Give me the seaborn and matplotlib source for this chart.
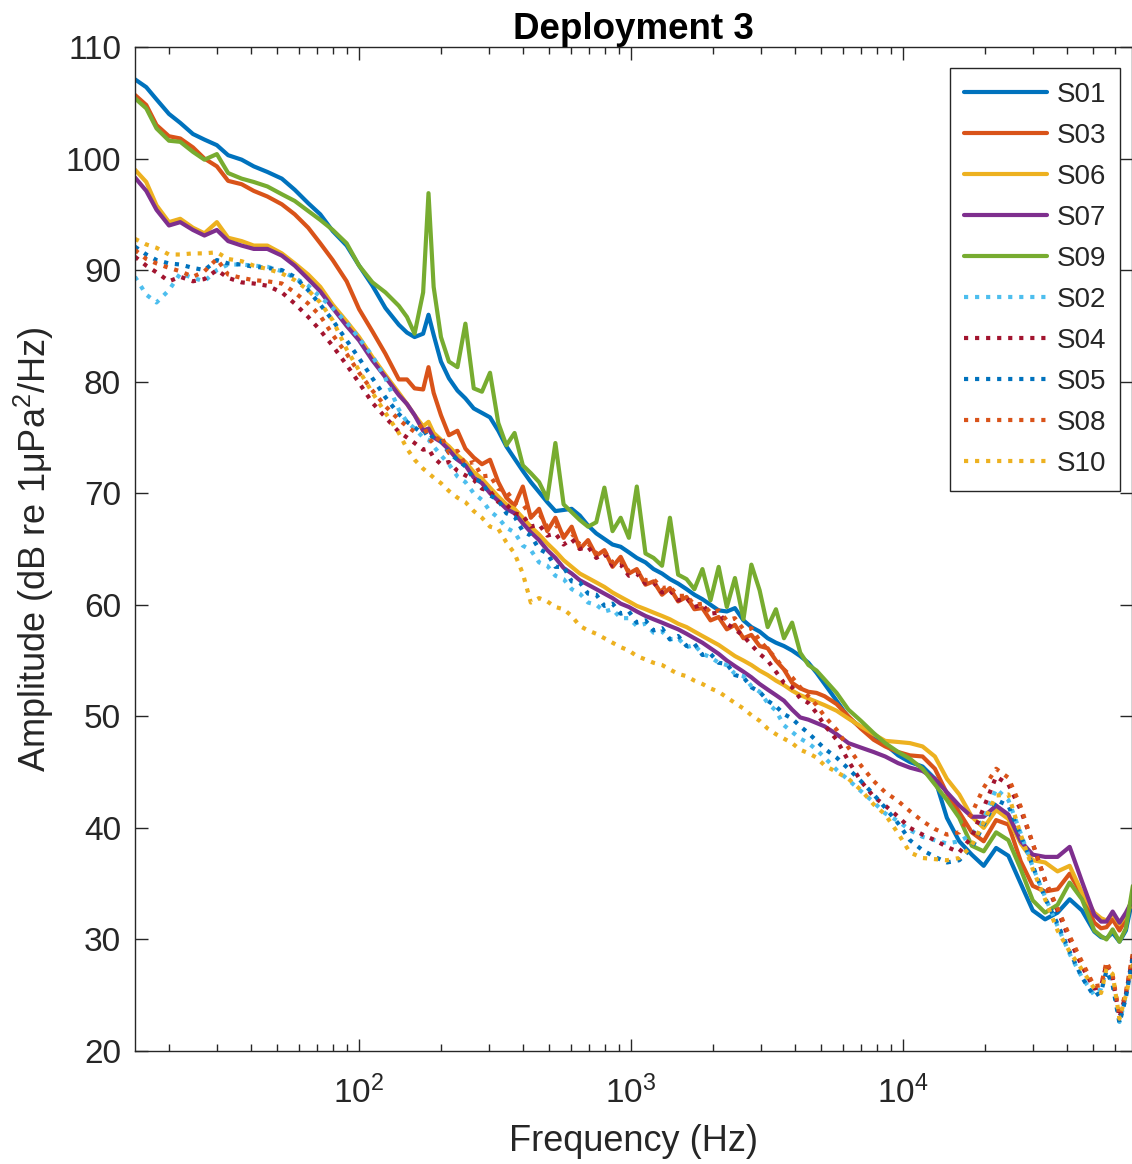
import matplotlib
matplotlib.use("Agg")
import matplotlib.pyplot as plt
import seaborn as sns
from matplotlib.ticker import LogLocator, NullFormatter, FixedLocator

sns.set_style("ticks")
plt.rcParams['font.family'] = ['Liberation Sans', 'DejaVu Sans']
plt.rcParams['mathtext.fontset'] = 'custom'
plt.rcParams['mathtext.rm'] = 'Liberation Sans'
plt.rcParams['mathtext.it'] = 'Liberation Sans:italic'
plt.rcParams['mathtext.bf'] = 'Liberation Sans:bold'

# ---------------- data ----------------
FREQ = [15, 16.5, 18, 20, 22, 24.5, 27, 30, 33, 37,
        41, 46, 52, 58, 65, 72, 80, 90, 100, 112,
        125, 140, 150, 160, 172, 180, 188, 200, 214, 230,
        246, 264, 283, 303, 325, 348, 373, 400, 428, 459,
        492, 527, 565, 605, 648, 695, 745, 798, 855, 916,
        982, 1050, 1130, 1210, 1300, 1390, 1490, 1600, 1710, 1830,
        1960, 2100, 2250, 2410, 2590, 2770, 2970, 3180, 3410, 3650,
        3910, 4190, 4490, 4810, 5150, 5700, 6300, 7000, 7800, 8600,
        9600, 10600, 11800, 13100, 14500, 16100, 17900, 19800, 22000, 24400,
        27100, 30000, 33300, 37000, 41000, 45500, 50500, 53500, 56000, 59000,
        62500, 66000, 70000]

S01 = [107.1, 106.4, 105.3, 104.0, 103.2, 102.2, 101.7, 101.2, 100.3, 99.9,
       99.3, 98.8, 98.2, 97.2, 96.0, 95.0, 93.5, 92.2, 90.4, 88.6,
       86.6, 85.1, 84.4, 84.0, 84.3, 86.0, 84.2, 81.8, 80.3, 79.2,
       78.5, 77.6, 77.2, 76.8, 75.6, 74.2, 73.1, 72.0, 71.0, 70.1,
       69.2, 68.4, 68.5, 68.6, 68.0, 67.1, 66.4, 65.9, 65.4, 65.2,
       64.7, 64.2, 63.8, 63.2, 62.8, 62.3, 61.9, 61.4, 60.9, 60.5,
       60.0, 59.5, 59.4, 59.7, 58.6, 58.0, 57.6, 57.0, 56.6, 56.3,
       55.9, 55.4, 54.8, 53.9, 52.9, 51.4, 49.9, 49.0, 48.2, 47.5,
       46.5, 45.9, 45.5, 44.4, 40.9, 38.8, 37.6, 36.6, 38.2, 37.5,
       35.0, 32.6, 31.8, 32.4, 33.6, 32.6, 30.7, 30.2, 30.1, 30.6,
       29.8, 30.8, 33.8]

S03 = [105.7, 104.8, 103.0, 102.0, 101.8, 101.0, 100.0, 99.3, 98.0, 97.7,
       97.1, 96.6, 95.9, 95.0, 93.8, 92.4, 90.9, 89.0, 86.5, 84.5,
       82.5, 80.2, 80.2, 79.4, 79.3, 81.3, 79.0, 77.0, 75.2, 75.6,
       74.0, 73.2, 72.6, 73.0, 71.0, 69.6, 68.9, 70.6, 67.8, 68.6,
       66.6, 67.8, 66.0, 67.0, 65.0, 65.8, 64.4, 64.9, 63.4, 64.3,
       62.8, 63.2, 61.8, 62.1, 60.9, 61.5, 60.3, 60.7, 59.6, 59.7,
       58.6, 58.9, 57.8, 58.2, 57.0, 57.3, 56.3, 56.1, 55.0, 54.2,
       53.0, 52.5, 52.2, 52.1, 51.8, 51.1, 50.0, 48.9, 47.9, 47.3,
       46.8, 46.5, 46.4, 45.3, 43.1, 41.4, 39.6, 38.8, 40.7, 40.3,
       37.0, 34.8, 34.3, 34.5, 35.9, 34.0, 31.5, 31.0, 31.1, 31.8,
       30.8, 31.8, 34.0]

S06 = [99.0, 97.9, 95.8, 94.3, 94.6, 93.8, 93.3, 94.3, 92.9, 92.6,
       92.2, 92.2, 91.5, 90.6, 89.6, 88.5, 86.9, 85.4, 84.0, 82.2,
       80.6, 79.0, 78.0, 77.0, 76.0, 76.4, 75.4, 74.8, 74.2, 73.4,
       72.8, 71.9, 71.3, 70.5, 69.7, 69.0, 68.6, 67.8, 67.0, 66.3,
       65.5, 64.8, 64.0, 63.4, 62.8, 62.4, 62.0, 61.6, 61.1, 60.7,
       60.3, 59.9, 59.6, 59.3, 59.0, 58.7, 58.3, 58.0, 57.6, 57.2,
       56.8, 56.4, 55.9, 55.4, 55.0, 54.6, 54.1, 53.7, 53.2, 52.8,
       52.3, 51.9, 51.6, 51.3, 51.0, 50.5, 49.8, 49.1, 48.4, 47.8,
       47.7, 47.6, 47.3, 46.4, 44.4, 43.0, 41.0, 40.0, 41.6, 40.8,
       38.6, 37.1, 36.9, 36.1, 36.6, 34.2, 32.4, 31.9, 31.7, 32.3,
       31.4, 32.2, 33.4]

S07 = [98.3, 97.1, 95.4, 94.0, 94.3, 93.6, 93.1, 93.6, 92.6, 92.2,
       91.9, 91.9, 91.3, 90.4, 89.2, 88.1, 86.6, 85.0, 83.7, 81.9,
       80.4, 78.8, 78.0, 77.0, 75.6, 75.8, 75.0, 74.6, 73.9, 73.0,
       72.5, 71.4, 70.9, 70.0, 69.3, 68.6, 68.2, 67.3, 66.5, 65.8,
       64.9, 64.2, 63.3, 62.8, 62.2, 61.8, 61.4, 61.0, 60.6, 60.1,
       59.8, 59.4, 59.0, 58.7, 58.4, 58.1, 57.8, 57.4, 57.0, 56.6,
       56.1, 55.6, 55.0, 54.5, 54.0, 53.5, 52.9, 52.4, 51.9, 51.4,
       50.6, 49.9, 49.7, 49.4, 49.1, 48.4, 47.6, 47.2, 46.8, 46.4,
       45.8, 45.4, 45.1, 44.4, 43.2, 42.0, 41.0, 41.0, 42.0, 41.2,
       38.8, 37.6, 37.4, 37.4, 38.3, 35.2, 32.2, 31.6, 31.6, 32.5,
       31.5, 32.4, 33.6]

S09 = [105.4, 104.5, 102.7, 101.6, 101.5, 100.6, 99.9, 100.4, 98.7, 98.2,
       97.9, 97.5, 96.8, 96.2, 95.3, 94.5, 93.6, 92.4, 90.4, 88.9,
       88.0, 86.8, 85.8, 84.3, 88.0, 96.9, 88.5, 84.0, 81.8, 81.3,
       85.2, 79.4, 79.1, 80.8, 76.3, 74.3, 75.4, 72.5, 71.8, 71.0,
       69.5, 74.5, 69.0, 68.3, 67.6, 67.0, 67.4, 70.5, 66.6, 67.8,
       66.0, 70.6, 64.6, 64.2, 63.5, 67.8, 62.7, 62.3, 61.4, 63.2,
       60.4, 63.4, 59.8, 62.4, 58.7, 63.6, 61.3, 58.0, 59.6, 57.0,
       58.4, 55.7, 54.6, 54.1, 53.3, 52.1, 50.6, 49.6, 48.5, 47.6,
       46.8, 46.2, 45.3, 43.9, 42.5, 40.9, 38.4, 37.9, 39.6, 38.9,
       36.3, 33.5, 32.4, 33.1, 35.1, 33.6, 30.8, 30.3, 30.0, 30.9,
       29.8, 31.0, 34.8]

S02 = [89.4, 87.8, 87.1, 88.2, 89.7, 89.3, 89.0, 90.0, 90.5, 90.5,
       90.4, 90.3, 89.9, 89.3, 88.6, 87.6, 86.6, 85.3, 83.9, 82.3,
       80.3, 77.5, 76.4, 75.8, 75.0, 74.8, 74.2, 73.4, 72.6, 71.5,
       71.0, 70.0, 69.4, 68.4, 67.8, 66.9, 66.5, 65.3, 64.9, 63.8,
       63.5, 62.6, 62.3, 61.4, 61.0, 60.2, 60.0, 59.4, 59.6, 58.8,
       58.8, 58.1, 58.3, 57.5, 57.6, 56.9, 57.0, 56.2, 56.4, 55.6,
       55.3, 54.8, 54.6, 53.8, 53.6, 52.7, 52.2, 51.2, 50.5, 49.2,
       48.6, 48.0, 47.6, 47.0, 46.3, 45.2, 44.3, 43.3, 42.3, 41.3,
       40.6, 39.8, 39.2, 38.9, 38.6, 38.8, 39.4, 40.8, 43.5, 42.5,
       39.5, 36.5, 33.8, 31.2, 28.7, 26.6, 25.0, 25.6, 27.4, 26.2,
       22.6, 24.9, 28.5]

S04 = [91.2, 90.4, 89.8, 89.0, 89.4, 89.0, 89.2, 90.0, 89.3, 88.9,
       88.8, 88.6, 88.0, 87.0, 85.8, 84.6, 83.2, 81.5, 79.9, 78.1,
       76.8, 75.5, 75.0, 74.5, 73.9, 74.0, 73.2, 72.6, 72.8, 72.0,
       71.6, 71.2, 70.4, 70.2, 69.2, 69.0, 68.2, 68.0, 67.0, 67.2,
       66.2, 66.4, 65.4, 65.9, 65.0, 65.2, 64.2, 64.6, 63.5, 63.6,
       62.6, 62.8, 61.9, 62.0, 61.1, 61.3, 60.4, 60.6, 59.8, 60.0,
       59.2, 59.3, 58.3, 57.8, 57.2, 56.4, 55.6, 55.0, 54.0, 53.0,
       52.6, 51.6, 51.2, 50.3, 49.2, 47.9, 46.0, 44.2, 42.8, 42.0,
       41.0, 40.0, 39.4, 38.9, 38.3, 37.8, 39.2, 41.8, 44.6, 43.9,
       41.6, 38.6, 35.3, 32.6, 30.0, 27.6, 25.6, 25.8, 27.8, 26.5,
       23.0, 25.1, 28.6]

S05 = [92.1, 91.4, 90.9, 90.6, 90.5, 90.2, 90.0, 90.9, 90.6, 90.5,
       90.3, 90.2, 90.0, 89.4, 88.2, 86.9, 85.5, 83.7, 82.1, 80.3,
       78.6, 77.1, 76.4, 75.9, 75.3, 75.6, 74.8, 74.7, 73.6, 73.0,
       72.4, 71.3, 71.0, 69.8, 69.4, 68.2, 67.9, 66.6, 66.2, 65.0,
       64.6, 63.4, 63.4, 62.1, 62.0, 61.0, 60.9, 59.9, 60.1, 59.2,
       59.4, 58.4, 58.6, 57.7, 57.9, 56.9, 57.2, 56.3, 56.5, 55.5,
       55.6, 54.8, 54.7, 53.7, 53.5, 52.6, 52.2, 51.4, 50.9, 50.2,
       49.8, 49.1, 48.5, 47.8, 47.1, 46.3, 45.3, 44.2, 43.0, 41.8,
       40.4, 38.9, 38.0, 37.4, 36.9, 37.1, 38.2, 40.3, 42.5, 42.0,
       39.3, 36.6, 33.7, 31.4, 28.9, 26.6, 24.9, 25.3, 27.2, 25.9,
       22.5, 24.8, 28.4]

S08 = [91.8, 91.0, 90.6, 90.2, 89.9, 89.4, 89.9, 91.0, 89.6, 89.3,
       89.1, 89.0, 88.8, 88.0, 87.0, 85.9, 84.2, 82.5, 80.8, 79.2,
       77.8, 76.6, 76.0, 75.5, 76.2, 75.0, 74.4, 75.2, 73.6, 73.8,
       72.6, 72.8, 71.5, 71.6, 70.4, 70.2, 69.2, 69.0, 68.0, 68.2,
       67.0, 67.2, 66.2, 66.4, 65.4, 65.5, 64.6, 64.8, 63.8, 64.0,
       63.0, 63.1, 62.2, 62.3, 61.5, 61.6, 60.8, 60.8, 60.0, 60.1,
       59.3, 59.5, 58.6, 58.8, 57.8, 57.9, 56.8, 56.0, 55.2, 54.2,
       53.5, 52.6, 51.8, 51.0, 50.0, 48.8, 47.2, 45.6, 44.2, 43.2,
       42.4, 41.5, 40.6, 39.9, 39.4, 39.6, 41.3, 43.6, 45.3, 44.5,
       41.9, 38.6, 35.3, 32.8, 30.3, 28.0, 25.8, 25.9, 28.0, 26.8,
       23.2, 25.3, 28.8]

S10 = [92.8, 92.3, 92.0, 91.4, 91.4, 91.5, 91.5, 91.6, 91.0, 90.8,
       90.4, 90.1, 89.7, 89.1, 88.2, 87.1, 85.5, 82.9, 81.0, 79.0,
       77.2, 75.4, 74.0, 73.0, 72.2, 71.8, 71.4, 70.9, 70.2, 69.6,
       69.2, 68.4, 67.8, 67.0, 66.8, 65.6, 64.6, 62.8, 60.2, 60.6,
       60.3, 59.8, 59.6, 59.0, 58.1, 57.7, 57.4, 57.0, 56.6, 56.2,
       55.9, 55.4, 55.1, 54.8, 54.6, 54.2, 53.8, 53.6, 53.2, 52.9,
       52.5, 52.2, 51.7, 51.2, 50.7, 50.1, 49.6, 48.9, 48.4, 48.0,
       47.6, 47.0, 46.7, 46.3, 45.6, 45.0, 44.4, 43.4, 42.1, 41.2,
       39.5, 37.8, 37.3, 37.2, 37.1, 37.3, 38.4, 40.5, 42.9, 43.0,
       39.4, 36.3, 33.6, 30.8, 28.9, 27.3, 25.6, 25.2, 27.4, 26.9,
       22.9, 25.0, 27.8]

NAMES = ["S01", "S03", "S06", "S07", "S09", "S02", "S04", "S05", "S08", "S10"]
VALUES = [S01, S03, S06, S07, S09, S02, S04, S05, S08, S10]
COLORS = ["#0072BD", "#D95319", "#EDB120", "#7E2F8E", "#77AC30",
          "#4DBEEE", "#A2142F", "#0072BD", "#D95319", "#EDB120"]
STYLES = ["-", "-", "-", "-", "-", ":", ":", ":", ":", ":"]

Y_TICKS = [20, 30, 40, 50, 60, 70, 80, 90, 100, 110]

# ---------------- figure ----------------
W, H = 1132, 1164
fig = plt.figure(figsize=(W / 100, H / 100), dpi=100)
fig.patch.set_facecolor("white")
ax = fig.add_axes([135 / W, 113 / H, (W - 135) / W, 1004 / H])
ax.set_facecolor("white")

for name, vals, col, ls in zip(NAMES, VALUES, COLORS, STYLES):
    sns.lineplot(x=FREQ, y=vals, ax=ax, color=col, linestyle=ls,
                 linewidth=3.0, label=name, estimator=None, sort=False)

ax.set_xscale("log")
ax.set_xlim(15, 69500)
ax.set_ylim(20, 110)
ax.yaxis.set_major_locator(FixedLocator(Y_TICKS))
ax.xaxis.set_major_locator(LogLocator(base=10, numticks=10))
ax.xaxis.set_minor_locator(LogLocator(base=10, subs=[2, 3, 4, 5, 6, 7, 8, 9], numticks=20))
ax.xaxis.set_minor_formatter(NullFormatter())

dark = "#262626"
for sp in ax.spines.values():
    sp.set_color(dark)
    sp.set_linewidth(1.0)
    sp.set_visible(True)
ax.tick_params(which="both", direction="in", top=True, right=True,
               colors=dark, width=1.0)
ax.tick_params(which="major", length=9, labelsize=24)
ax.tick_params(which="minor", length=5)
ax.tick_params(axis="y", which="major", pad=10)
ax.tick_params(axis="x", which="major", pad=18)
for lab in ax.get_xticklabels() + ax.get_yticklabels():
    lab.set_color(dark)

ax.set_title("Deployment 3", fontsize=26.5, fontweight="bold", pad=6, color="black")
ax.set_xlabel("Frequency (Hz)", fontsize=26, color=dark, labelpad=10)
ax.set_ylabel("Amplitude (dB re 1μPa$^2$/Hz)", fontsize=26, color=dark, labelpad=7)

leg = ax.legend(loc="upper right", bbox_to_anchor=(0.988, 0.979), fontsize=20,
                frameon=True, fancybox=False, edgecolor=dark, framealpha=1,
                borderpad=0.5, labelspacing=0.54, handlelength=3.0,
                handletextpad=0.35, borderaxespad=0)
leg.get_frame().set_linewidth(1.0)

fig.savefig("out.png", dpi=100, facecolor="white")
